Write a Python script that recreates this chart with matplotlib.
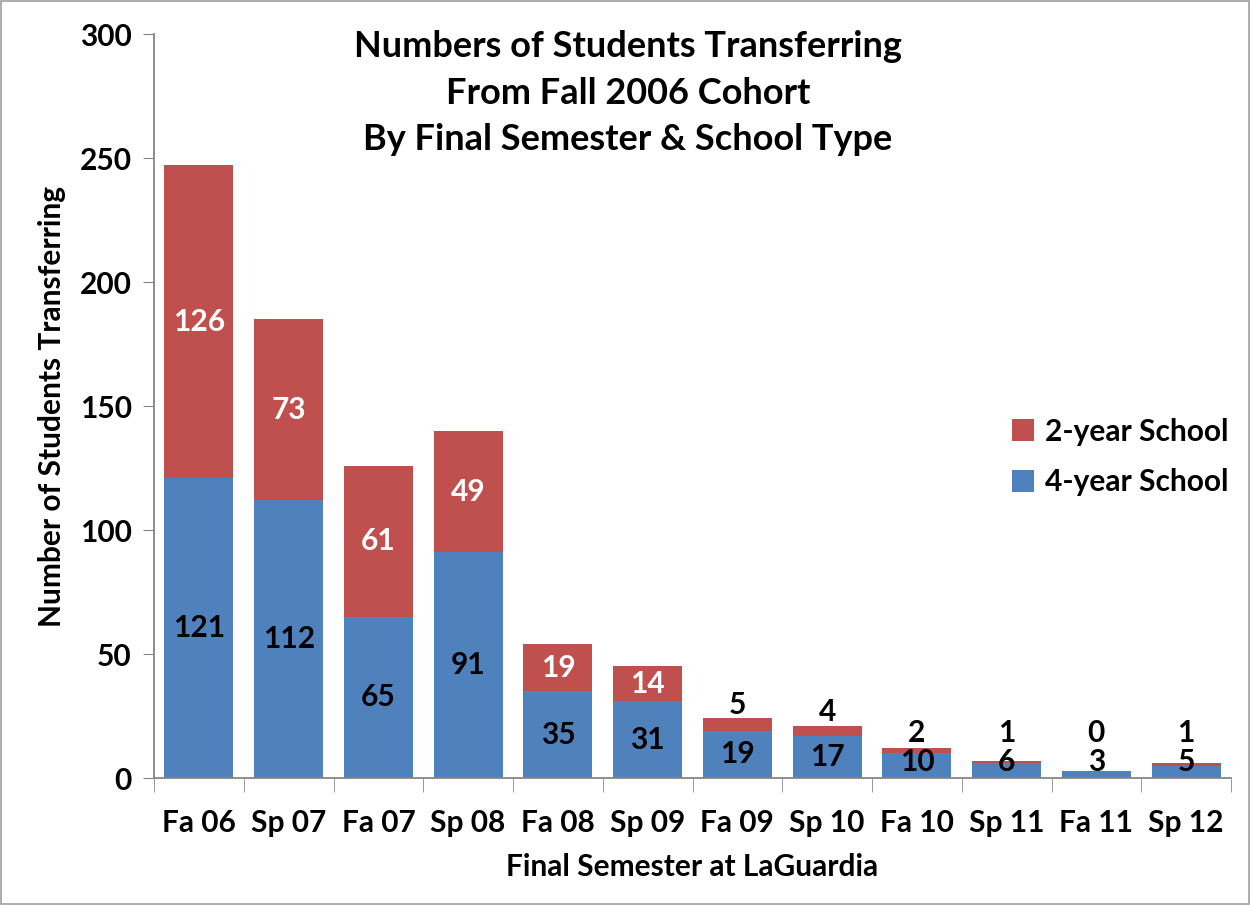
import numpy as np
import matplotlib.pyplot as plt
from matplotlib.patches import Rectangle

semesters = ["Fa 06", "Sp 07", "Fa 07", "Sp 08", "Fa 08", "Sp 09",
             "Fa 09", "Sp 10", "Fa 10", "Sp 11", "Fa 11", "Sp 12"]
four_year = [121, 112, 65, 91, 35, 31, 19, 17, 10, 6, 3, 5]
two_year = [126, 73, 61, 49, 19, 14, 5, 4, 2, 1, 0, 1]

blue = "#4F81BD"
red = "#C0504D"
plt.rcParams['font.family'] = ['Lato', 'DejaVu Sans']
plt.rcParams['font.weight'] = 'bold'

fig = plt.figure(figsize=(12.5, 9.05), dpi=100)
ax = fig.add_axes([154/1250, 1-778/905, (1231-154)/1250, (778-34)/905])

x = np.arange(len(semesters))
ax.bar(x, four_year, width=0.77, color=blue, label="4-year School")
ax.bar(x, two_year, width=0.77, bottom=four_year, color=red, label="2-year School")

fs = 21.5
for i in range(len(x)):
    f, t = four_year[i], two_year[i]
    total = f + t
    ax.text(x[i], max(f/2, 6.5), str(f), ha='center', va='center',
            fontsize=fs, fontweight='bold', color='black')
    if t >= 10:
        ax.text(x[i], f + t/2, str(t), ha='center', va='center',
                fontsize=fs, fontweight='bold', color='white')
    else:
        ax.text(x[i], max(total + 5.5, 18), str(t), ha='center', va='center',
                fontsize=fs, fontweight='bold', color='black')

ax.set_xlim(-0.5, len(x) - 0.5)
ax.set_ylim(0, 300)
ax.set_yticks(range(0, 301, 50))
ax.set_xticks(x)
ax.set_xticklabels(semesters)
ax.set_xticks(np.arange(-0.5, len(x)), minor=True)
ax.tick_params(axis='x', which='major', length=0, pad=22, labelsize=fs)
ax.tick_params(axis='x', which='minor', length=10, color='#868686', direction='out')
ax.tick_params(axis='y', length=8, color='#868686', direction='out', labelsize=fs, pad=8)
for lab in ax.get_xticklabels() + ax.get_yticklabels():
    lab.set_fontweight('bold')

for s in ['top', 'right']:
    ax.spines[s].set_visible(False)
for s in ['left', 'bottom']:
    ax.spines[s].set_color('#868686')
    ax.spines[s].set_linewidth(1.3)

ax.set_ylabel("Number of Students Transferring", fontsize=fs, fontweight='bold', labelpad=10)
ax.set_xlabel("Final Semester at LaGuardia", fontsize=fs, fontweight='bold', labelpad=12)

fig.text(628/1250, 1-93/905, "Numbers of Students Transferring\nFrom Fall 2006 Cohort\nBy Final Semester & School Type",
         ha='center', va='center', fontsize=26, fontweight='bold', linespacing=1.5)

handles, labels = ax.get_legend_handles_labels()
ax.legend(handles[::-1], labels[::-1], loc='center left', bbox_to_anchor=(1012/1250, 1-457/905),
          bbox_transform=fig.transFigure, frameon=False, fontsize=fs,
          handlelength=0.75, handleheight=0.75, handletextpad=0.35, labelspacing=0.75,
          borderpad=0, borderaxespad=0)

fig.patches.append(Rectangle((0.001, 0.001), 0.998, 0.998, transform=fig.transFigure,
                             fill=False, edgecolor='#A0A0A0', linewidth=1.2))

fig.savefig("out.png", dpi=100)
